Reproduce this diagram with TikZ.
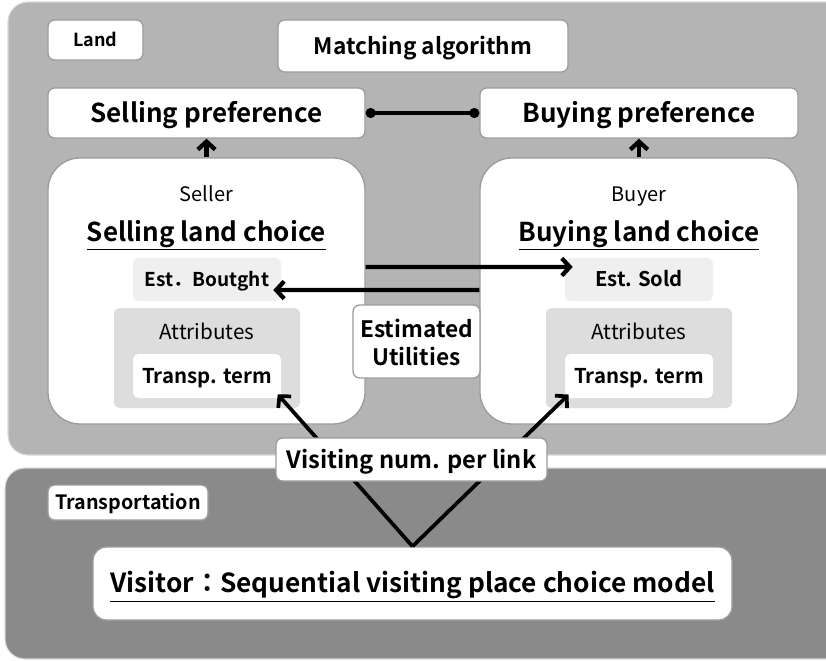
\documentclass[tikz,border=0pt]{standalone}
\usepackage{fontspec}
\setmainfont{Noto Sans CJK JP}[BoldFont={Noto Sans CJK JP Bold}]
\usetikzlibrary{arrows.meta,fit}
\definecolor{landgray}{HTML}{B4B4B4}
\definecolor{transgray}{HTML}{8A8A8A}
\definecolor{edgegray}{HTML}{9C9C9C}
\definecolor{estfill}{HTML}{EFEFEF}
\definecolor{attrfill}{HTML}{DDDDDD}
\newcommand{\ulbold}[1]{\underline{#1}}
\begin{document}
\begin{tikzpicture}[x=0.75pt,y=-0.75pt,
  panel/.style={rounded corners=15pt, draw=white!85!black, line width=0.8pt},
  wbox/.style={draw=edgegray, fill=white, rounded corners=5pt, line width=1pt, inner sep=0pt},
  bigbox/.style={draw=edgegray, fill=white, rounded corners=24pt, line width=1pt, inner sep=0pt},
  estbox/.style={fill=estfill, rounded corners=4pt, inner sep=0pt},
  attrbox/.style={fill=attrfill, rounded corners=4pt, inner sep=0pt},
  innerw/.style={fill=white, rounded corners=4pt, inner sep=0pt},
  arr/.style={line width=3.2pt, -{Straight Barb[length=6pt,width=13pt]}},
  link/.style={line width=2.3pt, {Circle[length=7.5pt]}-{Circle[length=7.5pt]}},
  vline/.style={line width=2.8pt},
  % labels are centred on their capital height
  bfs/.style={font=\bfseries\fontsize{#1}{#1}\selectfont, inner sep=0pt, text height=0.72*#1pt, text depth=0pt},
  rgs/.style={font=\fontsize{#1}{#1}\selectfont, inner sep=0pt, text height=0.72*#1pt, text depth=0pt},
]
\useasboundingbox (0,0) rectangle (826,661);

% background panels
\fill[landgray, panel] (8,2) rectangle (850,455);
\fill[transgray, panel] (5,468) rectangle (850,659);

% land layer, top row
\node[wbox, fit={(48,20)(143,60)}] (land) {};
\node[bfs=13.5] at (land) {Land};
\node[wbox, fit={(278,20)(568,72)}] (match) {};
\node[bfs=17] at (match) {Matching algorithm};
\node[wbox, fit={(48,88)(365,138)}] (sellpref) {};
\node[bfs=19.5] at (sellpref) {Selling preference};
\node[wbox, fit={(480,88)(798,138)}] (buypref) {};
\node[bfs=19.5] at (buypref) {Buying preference};
\draw[link] (sellpref.east) -- (buypref.west);

% seller side
\node[bigbox, fit={(48,158)(365,424)}] (seller) {};
\node[rgs=15] (sellerlbl) at (206.5,194.5) {Seller};
\node[bfs=19.5] (sellchoice) at (206.5,232) {\ulbold{Selling land choice}};
\node[estbox, fit={(133,258)(281,301)}] (estbought) {};
\node[bfs=14.3] at (estbought) {Est．Boutght};
\node[attrbox, fit={(114,308)(300,408)}] (sattr) {};
\node[rgs=15.5] (sattrlbl) at (207,332.5) {Attributes};
\node[innerw, fit={(133,354)(281,398)}] (stransp) {};
\node[bfs=15.3] at (stransp) {Transp. term};

% buyer side
\node[bigbox, fit={(480,158)(798,424)}] (buyer) {};
\node[rgs=15] (buyerlbl) at (639,194.5) {Buyer};
\node[bfs=19.5] (buychoice) at (639,232) {\ulbold{Buying land choice}};
\node[estbox, fit={(565,258)(713,301)}] (estsold) {};
\node[bfs=15.2] at (estsold) {Est. Sold};
\node[attrbox, fit={(546,308)(732,408)}] (battr) {};
\node[rgs=15.5] (battrlbl) at (639,332.5) {Attributes};
\node[innerw, fit={(565,354)(713,398)}] (btransp) {};
\node[bfs=15.3] at (btransp) {Transp. term};

% preference arrows
\draw[arr] (seller.north) -- (sellpref.south);
\draw[arr] (buyer.north) -- (buypref.south);

% estimated utilities exchange
\node[wbox, fit={(353,305)(480,378)}] (estutil) {};
\node[align=center, font=\bfseries\fontsize{17}{21}\selectfont, inner sep=0pt] at ([yshift=-1pt]estutil.center) {Estimated\\Utilities};
\draw[arr, shorten >=-6pt] ([yshift=18pt]seller.east) -- ([yshift=9.4pt]estsold.west);
\draw[arr, shorten >=-6pt] ([yshift=0.8pt]buyer.west) -- ([yshift=-7.9pt]estbought.east);

% transportation layer
\node[wbox, fit={(48,485)(208,520)}] (transp) {};
\node[bfs=14.8] at (transp) {Transportation};
\node[wbox, rounded corners=10pt, fit={(93,547)(732,620)}] (visitor) {};
\node[bfs=19.7] at (visitor) {\ulbold{Visitor：Sequential visiting place choice model}};

% link flows feeding the transport terms
\draw[vline, -{Straight Barb[length=6pt,width=13pt]}, shorten >=-4pt] (visitor.north) -- (stransp.south east);
\draw[vline, -{Straight Barb[length=6pt,width=13pt]}, shorten >=-4pt] (visitor.north) -- (btransp.south west);
\node[wbox, fit={(276,438)(547,481)}] (visits) {};
\node[bfs=17.8] at (visits) {Visiting num. per link};
\end{tikzpicture}
\end{document}
